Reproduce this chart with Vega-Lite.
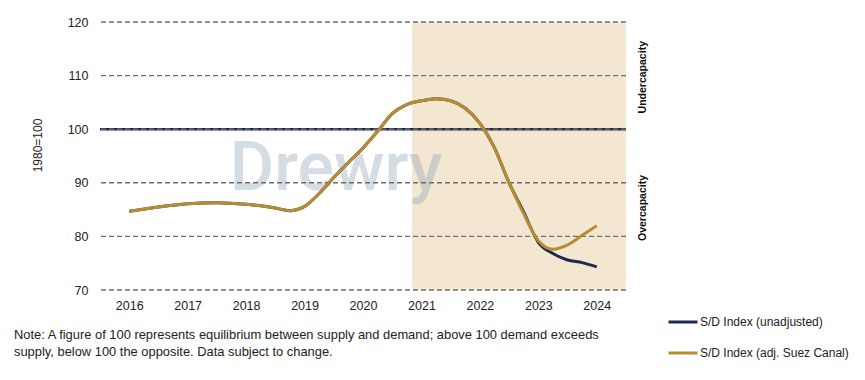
{
  "$schema": "https://vega.github.io/schema/vega-lite/v6.json",
  "width": 526,
  "height": 268,
  "autosize": {"type": "none"},
  "padding": {"left": 100, "top": 22, "right": 239, "bottom": 90},
  "background": "white",
  "config": {
    "view": {"stroke": null},
    "font": "Liberation Sans",
    "axis": {"domain": false, "ticks": false, "grid": false, "labelFont": "Liberation Sans", "labelColor": "#222222", "labelFontSize": 12.5, "titleFont": "Liberation Sans", "titleFontWeight": "normal", "titleColor": "#222222"},
    "legend": {"orient": "none", "legendX": 567, "legendY": 284, "padding": 0, "symbolType": "stroke", "symbolSize": 841, "symbolStrokeWidth": 3, "labelFont": "Liberation Sans", "labelFontSize": 12, "labelColor": "#222222", "labelOffset": 1, "rowPadding": 9, "labelLimit": 300}
  },
  "title": {
    "text": ["Note: A figure of 100 represents equilibrium between supply and demand; above 100 demand exceeds", "supply, below 100 the opposite. Data subject to change."],
    "orient": "bottom", "anchor": "start", "frame": "group", "dx": -86, "offset": -30,
    "font": "Liberation Sans", "fontSize": 12.9, "fontWeight": "normal", "color": "#222222", "lineHeight": 17
  },
  "datasets": {
    "shade": [{"year": 2020.84, "year2": 2024.5, "value": 70, "value2": 120}],
    "grid": [{"value": 70}, {"value": 80}, {"value": 90}, {"value": 100}, {"value": 110}, {"value": 120}],
    "equilibrium": [{"value": 100}],
    "watermark": [{"text": "Drewry", "year": 2017.72, "value": 88.6}],
    "side": [{"text": "Undercapacity", "year": 2024.79, "value": 109.7}, {"text": "Overcapacity", "year": 2024.79, "value": 85.3}],
    "series": [
      {"series": "S/D Index (unadjusted)", "year": 2016.0, "value": 84.7},
      {"series": "S/D Index (unadjusted)", "year": 2016.5, "value": 85.5},
      {"series": "S/D Index (unadjusted)", "year": 2017.0, "value": 86.1},
      {"series": "S/D Index (unadjusted)", "year": 2017.5, "value": 86.3},
      {"series": "S/D Index (unadjusted)", "year": 2018.0, "value": 86.0},
      {"series": "S/D Index (unadjusted)", "year": 2018.5, "value": 85.3},
      {"series": "S/D Index (unadjusted)", "year": 2018.75, "value": 84.8},
      {"series": "S/D Index (unadjusted)", "year": 2019.0, "value": 85.6},
      {"series": "S/D Index (unadjusted)", "year": 2019.25, "value": 88.0},
      {"series": "S/D Index (unadjusted)", "year": 2019.5, "value": 91.0},
      {"series": "S/D Index (unadjusted)", "year": 2019.75, "value": 93.8},
      {"series": "S/D Index (unadjusted)", "year": 2020.0, "value": 96.5},
      {"series": "S/D Index (unadjusted)", "year": 2020.25, "value": 99.6},
      {"series": "S/D Index (unadjusted)", "year": 2020.5, "value": 102.9},
      {"series": "S/D Index (unadjusted)", "year": 2020.75, "value": 104.6},
      {"series": "S/D Index (unadjusted)", "year": 2021.0, "value": 105.3},
      {"series": "S/D Index (unadjusted)", "year": 2021.25, "value": 105.7},
      {"series": "S/D Index (unadjusted)", "year": 2021.5, "value": 105.3},
      {"series": "S/D Index (unadjusted)", "year": 2021.75, "value": 103.9},
      {"series": "S/D Index (unadjusted)", "year": 2022.0, "value": 101.1},
      {"series": "S/D Index (unadjusted)", "year": 2022.25, "value": 96.5},
      {"series": "S/D Index (unadjusted)", "year": 2022.5, "value": 90.0},
      {"series": "S/D Index (unadjusted)", "year": 2022.75, "value": 84.5},
      {"series": "S/D Index (unadjusted)", "year": 2023.0, "value": 78.9},
      {"series": "S/D Index (unadjusted)", "year": 2023.25, "value": 76.8},
      {"series": "S/D Index (unadjusted)", "year": 2023.5, "value": 75.6},
      {"series": "S/D Index (unadjusted)", "year": 2023.75, "value": 75.1},
      {"series": "S/D Index (unadjusted)", "year": 2024.0, "value": 74.3},
      {"series": "S/D Index (adj. Suez Canal)", "year": 2016.0, "value": 84.7},
      {"series": "S/D Index (adj. Suez Canal)", "year": 2016.5, "value": 85.5},
      {"series": "S/D Index (adj. Suez Canal)", "year": 2017.0, "value": 86.1},
      {"series": "S/D Index (adj. Suez Canal)", "year": 2017.5, "value": 86.3},
      {"series": "S/D Index (adj. Suez Canal)", "year": 2018.0, "value": 86.0},
      {"series": "S/D Index (adj. Suez Canal)", "year": 2018.5, "value": 85.3},
      {"series": "S/D Index (adj. Suez Canal)", "year": 2018.75, "value": 84.8},
      {"series": "S/D Index (adj. Suez Canal)", "year": 2019.0, "value": 85.6},
      {"series": "S/D Index (adj. Suez Canal)", "year": 2019.25, "value": 88.0},
      {"series": "S/D Index (adj. Suez Canal)", "year": 2019.5, "value": 91.0},
      {"series": "S/D Index (adj. Suez Canal)", "year": 2019.75, "value": 93.8},
      {"series": "S/D Index (adj. Suez Canal)", "year": 2020.0, "value": 96.5},
      {"series": "S/D Index (adj. Suez Canal)", "year": 2020.25, "value": 99.6},
      {"series": "S/D Index (adj. Suez Canal)", "year": 2020.5, "value": 102.9},
      {"series": "S/D Index (adj. Suez Canal)", "year": 2020.75, "value": 104.6},
      {"series": "S/D Index (adj. Suez Canal)", "year": 2021.0, "value": 105.3},
      {"series": "S/D Index (adj. Suez Canal)", "year": 2021.25, "value": 105.7},
      {"series": "S/D Index (adj. Suez Canal)", "year": 2021.5, "value": 105.3},
      {"series": "S/D Index (adj. Suez Canal)", "year": 2021.75, "value": 103.9},
      {"series": "S/D Index (adj. Suez Canal)", "year": 2022.0, "value": 101.1},
      {"series": "S/D Index (adj. Suez Canal)", "year": 2022.25, "value": 96.5},
      {"series": "S/D Index (adj. Suez Canal)", "year": 2022.5, "value": 90.0},
      {"series": "S/D Index (adj. Suez Canal)", "year": 2022.75, "value": 84.2},
      {"series": "S/D Index (adj. Suez Canal)", "year": 2023.0, "value": 79.2},
      {"series": "S/D Index (adj. Suez Canal)", "year": 2023.25, "value": 77.6},
      {"series": "S/D Index (adj. Suez Canal)", "year": 2023.5, "value": 78.4},
      {"series": "S/D Index (adj. Suez Canal)", "year": 2023.75, "value": 80.2},
      {"series": "S/D Index (adj. Suez Canal)", "year": 2024.0, "value": 82.0}
    ]
  },
  "layer": [
    {
      "data": {"name": "shade"},
      "mark": {"type": "rect", "color": "#f3e7d2", "cornerRadius": 4},
      "encoding": {
        "x": {"field": "year", "type": "quantitative", "title": null, "scale": {"domain": [2015.5, 2024.5], "nice": false, "zero": false}},
        "x2": {"field": "year2"},
        "y": {"field": "value", "type": "quantitative", "title": "1980=100", "scale": {"domain": [70, 120], "nice": false, "zero": false}},
        "y2": {"field": "value2"}
      }
    },
    {
      "data": {"name": "watermark"},
      "mark": {"type": "text", "font": "Roboto", "fontWeight": 500, "fontSize": 68, "align": "left", "baseline": "alphabetic", "color": "#8aa0b6", "opacity": 0.36},
      "encoding": {
        "x": {"field": "year", "type": "quantitative", "title": null},
        "y": {"field": "value", "type": "quantitative", "title": "1980=100"},
        "text": {"field": "text"}
      }
    },
    {
      "data": {"name": "equilibrium"},
      "mark": {"type": "rule", "color": "#1d2a50", "strokeWidth": 2.5},
      "encoding": {
        "y": {"field": "value", "type": "quantitative", "title": "1980=100"}
      }
    },
    {
      "data": {"name": "grid"},
      "mark": {"type": "rule", "color": "#6e6e6e", "strokeWidth": 1.4, "strokeDash": [5, 3]},
      "encoding": {
        "y": {"field": "value", "type": "quantitative", "title": "1980=100"}
      }
    },
    {
      "data": {"name": "series"},
      "transform": [{"filter": "datum.series === 'S/D Index (unadjusted)'"}],
      "mark": {"type": "line", "interpolate": "monotone", "strokeWidth": 3, "strokeCap": "butt"},
      "encoding": {
        "x": {"field": "year", "type": "quantitative", "title": null, "axis": {"values": [2016, 2017, 2018, 2019, 2020, 2021, 2022, 2023, 2024], "format": "d", "labelPadding": 9, "labelFlush": false}},
        "y": {"field": "value", "type": "quantitative", "title": "1980=100", "axis": {"values": [70, 80, 90, 100, 110, 120], "labelPadding": 12, "titlePadding": 23, "titleFontSize": 12, "titleY": 123}},
        "color": {"field": "series", "type": "nominal", "title": null, "scale": {"domain": ["S/D Index (unadjusted)", "S/D Index (adj. Suez Canal)"], "range": ["#1d2a50", "#b88c30"]}}
      }
    },
    {
      "data": {"name": "series"},
      "transform": [{"filter": "datum.series === 'S/D Index (adj. Suez Canal)'"}],
      "mark": {"type": "line", "interpolate": "monotone", "strokeWidth": 3, "strokeCap": "butt"},
      "encoding": {
        "x": {"field": "year", "type": "quantitative", "title": null},
        "y": {"field": "value", "type": "quantitative", "title": "1980=100"},
        "color": {"field": "series", "type": "nominal", "title": null}
      }
    },
    {
      "data": {"name": "side"},
      "mark": {"type": "text", "angle": 270, "font": "Liberation Sans", "fontWeight": "bold", "fontSize": 10.5, "align": "center", "baseline": "middle", "color": "#111111"},
      "encoding": {
        "x": {"field": "year", "type": "quantitative", "title": null},
        "y": {"field": "value", "type": "quantitative", "title": "1980=100"},
        "text": {"field": "text"}
      }
    }
  ]
}
